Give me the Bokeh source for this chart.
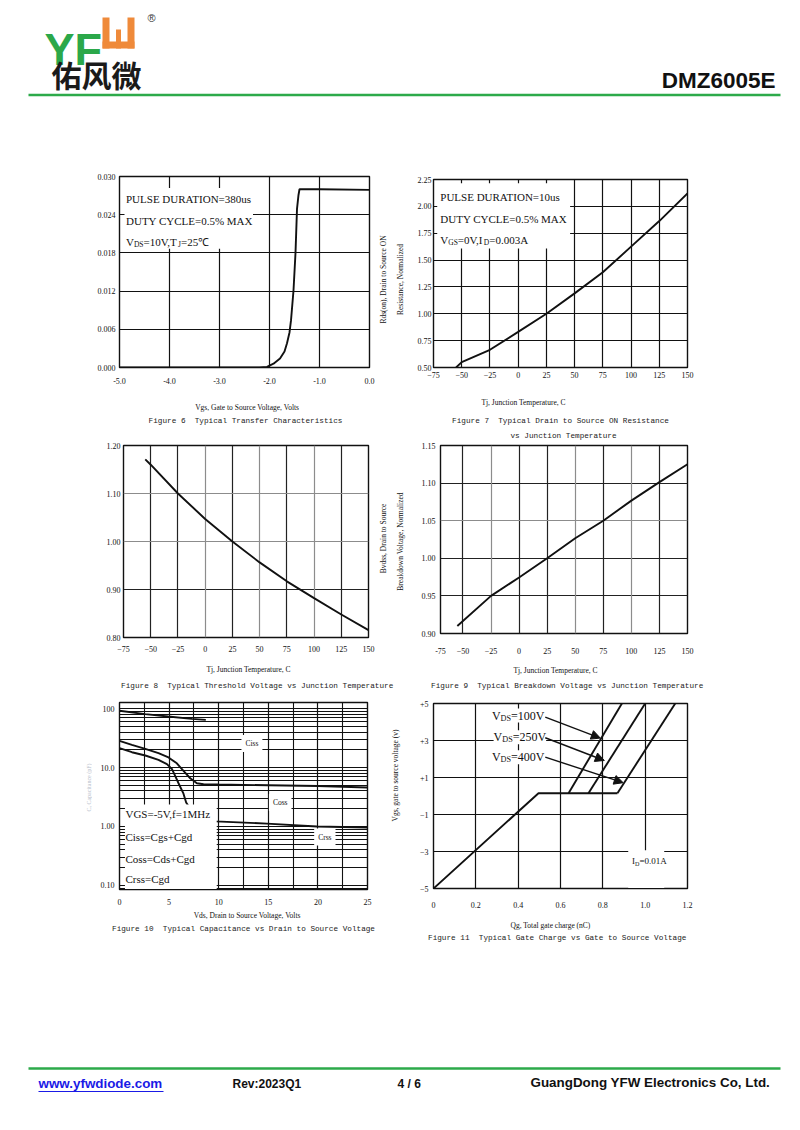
import math
from bokeh.plotting import figure
from bokeh.layouts import column, row
from bokeh.models import (Range1d, FixedTicker, NumeralTickFormatter, Label,
                          BoxAnnotation, Arrow, NormalHead, Grid)
from bokeh.core.properties import value
from bokeh.embed import file_html
from bokeh.resources import INLINE

# ---------------- data ----------------
# Figure 6: transfer characteristics
vgs6 = [-5.0, -4.0, -3.0, -2.2, -2.05, -1.92, -1.79, -1.70, -1.65, -1.60, -1.57,
        -1.52, -1.48, -1.45, -1.42, -1.40, -1.0, 0.0]
id6 = [0.0, 0.0, 0.0, 0.0, 0.0001, 0.0006, 0.0014, 0.0025, 0.0038, 0.0055, 0.0074,
       0.0121, 0.0180, 0.0249, 0.0271, 0.0280, 0.0280, 0.0279]
fig6_xticks = [-5.0, -4.0, -3.0, -2.0, -1.0, 0.0]
fig6_yticks = [0.0, 0.006, 0.012, 0.018, 0.024, 0.030]

# Figure 7: Rds(on) vs Tj
tj7 = [-55, -50, -25, 0, 25, 50, 75, 100, 125, 150]
rds7 = [0.50, 0.55, 0.665, 0.832, 1.00, 1.19, 1.386, 1.625, 1.863, 2.12]
fig7_xticks = [-75, -50, -25, 0, 25, 50, 75, 100, 125, 150]
fig7_yticks = [0.50, 0.75, 1.00, 1.25, 1.50, 1.75, 2.00, 2.25]

# Figure 8: threshold voltage vs Tj
tj8 = [-55, -50, -25, 0, 25, 50, 75, 100, 125, 150]
vth8 = [1.171, 1.160, 1.100, 1.047, 1.000, 0.9565, 0.917, 0.882, 0.848, 0.8155]
fig8_xticks = [-75, -50, -25, 0, 25, 50, 75, 100, 125, 150]
fig8_yticks = [0.80, 0.90, 1.00, 1.10, 1.20]
fig8_xgrid_light = [0, 50, 100]
fig8_ygrid_light = [1.00, 1.10]

# Figure 9: breakdown voltage vs Tj
tj9 = [-55, -25, 0, 25, 50, 75, 100, 125, 150]
bv9 = [0.910, 0.950, 0.9745, 1.000, 1.0267, 1.050, 1.0767, 1.1013, 1.125]
fig9_xticks = [-70, -50, -25, 0, 25, 50, 75, 100, 125, 150]
fig9_xlabels = {-70: "-75"}
fig9_yticks = [0.90, 0.95, 1.00, 1.05, 1.10, 1.15]
fig9_xgrid_light = [-25, 50, 100]
fig9_ygrid_light = [1.05]

# Figure 10: capacitance vs Vds
ciss_v = [0.0, 2.6, 4.9, 7.3, 8.7]
ciss_c = [91.8, 80.6, 73.6, 67.1, 64.5]
coss_v = [0.0, 1.25, 2.6, 3.93, 4.94, 5.78, 6.45, 7.13, 7.8, 8.47, 10, 15, 20, 25]
coss_c = [28.3, 24.2, 20.7, 17.5, 14.8, 11.8, 8.75, 6.58, 5.41, 5.20, 5.14, 5.0, 4.86, 4.57]
crss_v = [0.0, 1.25, 2.6, 3.93, 4.78, 5.28, 5.6, 5.95, 6.19, 6.45, 6.72, 7.5, 9.67,
          14.86, 19.9, 25]
crss_c = [21.3, 18.2, 16.0, 13.5, 11.4, 9.46, 7.31, 5.41, 4.45, 3.6, 2.54, 1.6, 1.22,
          1.116, 1.0, 0.96]
fig10_xticks = [0, 5, 10, 15, 20, 25]
fig10_xminor = [2.5, 7.5, 12.5, 17.5, 22.5]
fig10_yticks = [0.1, 1, 10, 100]
fig10_ylabels = {0.1: "0.10", 1: "1.00", 10: "10.0", 100: "100"}

# Figure 11: gate charge
qg_base = [0.0, 0.496, 0.869]
vgs_base = [-5.0, 0.15, 0.15]
qg_100 = [0.638, 0.89]
qg_250 = [0.732, 1.0]
qg_400 = [0.869, 1.142]
vgs_rise = [0.15, 5.0]
fig11_xticks = [0, 0.2, 0.4, 0.6, 0.8, 1.0, 1.2]
fig11_yticks = [-5, -3, -1, 1, 3, 5]
fig11_ylabels = {5: "+5", 3: "+3", 1: "+1"}

# ---------------- helpers ----------------
SERIF = "Liberation Serif"
MONO = "Liberation Mono"
SANS = "Liberation Sans"
INK = "#111111"
CAP = "#222222"
GREEN = "#2daa4a"
LIGHT = "#8c8c8c"
HALF_PI = math.pi / 2
SP2 = "\u00a0 "  # double space kept in SVG text

TIMES = {'V': .722, 'D': .722, 'S': .556, 'G': .722, 'T': .611, 'J': .389, 'I': .333,
         '=': .564, ',': .25, '.': .25, 'A': .722, ' ': .25, '℃': 1.0, 'C': .667}


def no_align(p):
    if "frame_align" in p.properties():
        p.frame_align = False
    return p


def tw(s, fs):
    return sum(TIMES.get(c, 0.5) for c in s) * fs


def rich(p, x, y, pieces, fs, bg=None):
    off = 0.0
    for t, sub in pieces:
        f = fs * 0.68 if sub else fs
        lab = Label(x=x, y=y, x_offset=off, y_offset=(-2.5 if sub else 0), text=t,
                    text_font=SERIF, text_font_size=f"{f:.1f}px", text_baseline="middle",
                    text_align="left", text_color=INK)
        if bg:
            lab.background_fill_color = bg
        p.add_layout(lab)
        off += tw(t, f)


def txt(p, x, y, s, fs, align="left", color=INK, bg=None, pad=None):
    lab = Label(x=x, y=y, text=s, text_font=SERIF, text_font_size=f"{fs}px",
                text_baseline="middle", text_align=align, text_color=color)
    if bg:
        lab.background_fill_color = bg
    if pad is not None:
        lab.padding = pad
    p.add_layout(lab)


def white_box(p, l, r, b, t):
    p.add_layout(BoxAnnotation(left=l, right=r, bottom=b, top=t, fill_color="white",
                               fill_alpha=1.0, line_alpha=0.0))


def two_tone_grid(p, xt, yt, xlight, ylight, dark="#222222"):
    p.xgrid.ticker = FixedTicker(ticks=[t for t in xt if t not in xlight])
    p.ygrid.ticker = FixedTicker(ticks=[t for t in yt if t not in ylight])
    p.xgrid.grid_line_color = dark
    p.ygrid.grid_line_color = dark
    p.add_layout(Grid(dimension=0, ticker=FixedTicker(ticks=xlight),
                      grid_line_color=LIGHT, grid_line_width=1.2))
    p.add_layout(Grid(dimension=1, ticker=FixedTicker(ticks=ylight),
                      grid_line_color=LIGHT, grid_line_width=1.2))


def chart(w, h, bl, br, bt, bb, xr, yr, xt, yt, ytype="linear", gc=INK,
          xminor=None, yminor=None, xstand=8, ystand=4):
    p = figure(width=w, height=h, x_range=Range1d(*xr), y_range=Range1d(*yr),
               y_axis_type=ytype, output_backend="svg", toolbar_location=None,
               min_border_left=bl, min_border_right=br, min_border_top=bt,
               min_border_bottom=bb)
    no_align(p)
    p.background_fill_color = "white"
    p.border_fill_color = "white"
    p.outline_line_color = INK
    p.outline_line_width = 1.4
    p.xaxis.ticker = FixedTicker(ticks=xt, minor_ticks=xminor or [])
    p.yaxis.ticker = FixedTicker(ticks=yt, minor_ticks=yminor or [])
    for ax in p.axis:
        ax.axis_line_color = None
        ax.major_tick_line_color = None
        ax.minor_tick_line_color = None
        ax.major_tick_out = 0
        ax.major_tick_in = 0
        ax.minor_tick_out = 0
        ax.minor_tick_in = 0
        ax.major_label_text_font = SERIF
        ax.major_label_text_font_size = "8px"
        ax.major_label_text_color = INK
    p.xaxis.major_label_standoff = xstand
    p.yaxis.major_label_standoff = ystand
    p.xgrid.grid_line_color = gc
    p.ygrid.grid_line_color = gc
    p.xgrid.grid_line_width = 1.2
    p.ygrid.grid_line_width = 1.2
    if xminor:
        p.xgrid.minor_grid_line_color = gc
        p.xgrid.minor_grid_line_width = 1.1
    if yminor:
        p.ygrid.minor_grid_line_color = gc
        p.ygrid.minor_grid_line_width = 1.0
    return p


def pixfig(w, h):
    p = figure(width=w, height=h, x_range=Range1d(0, w), y_range=Range1d(h, 0),
               output_backend="svg", toolbar_location=None, min_border=0,
               x_axis_location=None, y_axis_location=None)
    no_align(p)
    p.grid.visible = False
    p.outline_line_color = None
    p.background_fill_color = "white"
    p.border_fill_color = "white"
    return p


def ptext(p, xs, ys, texts, fs, font=SERIF, align="center", color=INK, angle=0.0,
          bold=False):
    p.text(x=xs, y=ys, text=texts, text_font=value(font), text_font_size=f"{fs}px",
           text_color=color, text_align=align, text_baseline="middle", angle=angle,
           text_font_style=("bold" if bold else "normal"))


CURVE = dict(line_color=INK, line_width=1.9)
ANN = 11

# ---------------- header ----------------
hdr = pixfig(800, 160)
hdr.text(x=[44], y=[48.5], text=["YF"], text_font=value(SANS), text_font_style="bold",
         text_font_size="45px", text_color="#2ba84a", text_baseline="alphabetic")
logo_l = [102, 127, 102, 115.5]
logo_r = [109, 134, 134, 120.5]
logo_t = [17, 17, 41, 29]
logo_b = [48, 48, 48, 48]
hdr.quad(left=logo_l, right=logo_r, top=logo_t, bottom=logo_b, fill_color="#ef8a3a",
         line_color=None)
ptext(hdr, [147], [17], ["®"], 11, font=SANS, align="left", color="#333333")
ptext(hdr, [51], [73], ["佑风微"], 30, font="Noto Sans CJK SC", align="left",
      color="#1a1a1a", bold=True)
ptext(hdr, [775], [80], ["DMZ6005E"], 22.5, font=SANS, align="right", bold=True)
hdr.segment(x0=[28], y0=[94.5], x1=[780], y1=[94.5], line_color=GREEN, line_width=2.5)

# ---------------- Figure 6 ----------------
p6 = chart(376, 232, 119, 7, 16, 25, (-5.0, 0.0), (0.0, 0.030), fig6_xticks, fig6_yticks,
           xstand=10, ystand=4)
p6.xaxis.formatter = NumeralTickFormatter(format="0.0")
p6.yaxis.formatter = NumeralTickFormatter(format="0.000")
p6.line(vgs6, id6, **CURVE)
white_box(p6, -4.9, -2.33, 0.01866, 0.0282)
txt(p6, -4.87, 0.02646, "PULSE DURATION=380us", ANN)
txt(p6, -4.87, 0.02304, "DUTY CYCLE=0.5% MAX", ANN)
rich(p6, -4.87, 0.01973, [("V", False), ("DS", True), ("=10V,T", False), ("J", True),
                          ("=25℃", False)], ANN)
strip6 = pixfig(376, 48)
ptext(strip6, [246.7], [15.3], ["Vgs, Gate to Source Voltage, Volts"], 7.5)
ptext(strip6, [245], [28], ["Figure 6" + SP2 + "Typical Transfer Characteristics"], 7.7,
      font=MONO, color=CAP)

# ---------------- Figure 7 ----------------
gap7 = pixfig(30, 226)
ptext(gap7, [6.5, 24], [119, 119], ["Rds(on), Drain to Source ON", "Resistance, Normalized"],
      7.5, angle=HALF_PI)
p7 = chart(394, 226, 27, 113, 19, 19, (-75, 150), (0.5, 2.25), fig7_xticks, fig7_yticks,
           xstand=4, ystand=2)
p7.yaxis.formatter = NumeralTickFormatter(format="0.00")
p7.line(tj7, rds7, **CURVE)
white_box(p7, -71.7, 46, 1.608, 2.215)
txt(p7, -69, 2.0875, "PULSE DURATION=10us", ANN)
txt(p7, -69, 1.886, "DUTY CYCLE=0.5% MAX", ANN)
rich(p7, -69, 1.69, [("V", False), ("GS", True), ("=0V,I", False), ("D", True),
                     ("=0.003A", False)], ANN)
strip7 = pixfig(424, 54)
ptext(strip7, [147], [16.3], ["Tj, Junction Temperature, C"], 7.5)
ptext(strip7, [184, 187], [34, 49.7],
      ["Figure 7" + SP2 + "Typical Drain to Source ON Resistance", "vs Junction Temperature"],
      7.7, font=MONO, color=CAP)

# ---------------- Figure 8 ----------------
p8 = chart(376, 220, 123, 8, 5, 23, (-75, 150), (0.80, 1.20), fig8_xticks, fig8_yticks,
           xstand=8, ystand=3)
two_tone_grid(p8, fig8_xticks, fig8_yticks, fig8_xgrid_light, fig8_ygrid_light)
p8.yaxis.formatter = NumeralTickFormatter(format="0.00")
p8.line(tj8, vth8, **CURVE)

# ---------------- Figure 9 ----------------
gap9 = pixfig(30, 220)
ptext(gap9, [6.5, 24], [98, 101], ["Bvdss, Drain to Source", "Breakdown Voltage, Normalized"],
      7.5, angle=HALF_PI)
p9 = chart(394, 220, 34, 113, 5, 27, (-70, 150), (0.90, 1.15), fig9_xticks, fig9_yticks,
           xstand=14, ystand=5)
two_tone_grid(p9, fig9_xticks, fig9_yticks, fig9_xgrid_light, fig9_ygrid_light)
p9.yaxis.formatter = NumeralTickFormatter(format="0.00")
p9.xaxis.major_label_overrides = fig9_xlabels
p9.line(tj9, bv9, **CURVE)

strip2 = pixfig(800, 36)
ptext(strip2, [248, 555], [9, 10], ["Tj, Junction Temperature, C",
                                    "Tj, Junction Temperature, C"], 7.5)
ptext(strip2, [256.7, 566.7], [25.7, 25],
      ["Figure 8" + SP2 + "Typical Threshold Voltage vs Junction Temperature",
       "Figure 9" + SP2 + "Typical Breakdown Voltage vs Junction Temperature"],
      7.7, font=MONO, color=CAP)

# ---------------- Figure 10 ----------------
gap10 = pixfig(92, 213)
ptext(gap10, [88], [91], ["C, Capacitance (pF)"], 6, angle=HALF_PI, color="#b8c0cc")
fig10_yminor = [m * 10.0 ** e for e in (-2, -1, 0, 1) for m in range(2, 10)]
p10 = chart(284, 213, 27, 9, 6, 20, (0, 25), (0.085, 127), fig10_xticks, fig10_yticks,
            ytype="log", xminor=fig10_xminor, yminor=fig10_yminor, xstand=9, ystand=5)
p10.yaxis.major_label_overrides = fig10_ylabels
p10.line(ciss_v, ciss_c, **CURVE)
p10.line(coss_v, coss_c, **CURVE)
p10.line(crss_v, crss_c, **CURVE)
white_box(p10, 0.55, 9.8, 0.087, 2.35)
txt(p10, 0.6, 1.65, "VGS=-5V,f=1MHz", 11)
txt(p10, 0.6, 0.66, "Ciss=Cgs+Cgd", 11)
txt(p10, 0.6, 0.2834, "Coss=Cds+Cgd", 11)
txt(p10, 0.6, 0.1295, "Crss=Cgd", 11)
txt(p10, 13.35, 25.6, "Ciss", 7.5, align="center", bg="white", pad=4)
txt(p10, 16.2, 2.54, "Coss", 7.5, align="center", bg="white", pad=4)
txt(p10, 20.7, 0.66, "Crss", 7.5, align="center", bg="white", pad=4)
strip10 = pixfig(376, 37)
ptext(strip10, [246.7], [6], ["Vds, Drain to Source Voltage, Volts"], 7.5)
ptext(strip10, [243], [19.3],
      ["Figure 10" + SP2 + "Typical Capacitance vs Drain to Source Voltage"],
      7.7, font=MONO, color=CAP)

# ---------------- Figure 11 ----------------
gap11 = pixfig(30, 216)
ptext(gap11, [19], [79], ["Vgs, gate to source voltage (v)"], 7.5, angle=HALF_PI)
p11 = chart(394, 216, 27, 113, 7, 24, (0.0, 1.2), (-5.0, 5.0), fig11_xticks, fig11_yticks,
            xstand=13, ystand=5)
p11.xaxis.formatter = NumeralTickFormatter(format="0.0")
p11.xaxis.major_label_overrides = {0: "0"}
p11.yaxis.major_label_overrides = fig11_ylabels
p11.line(qg_base, vgs_base, **CURVE)
p11.line(qg_100, vgs_rise, **CURVE)
p11.line(qg_250, vgs_rise, **CURVE)
p11.line(qg_400, vgs_rise, **CURVE)
white_box(p11, 0.92, 1.09, -4.97, -2.93)
rich(p11, 0.276, 4.35, [("V", False), ("DS", True), ("=100V", False)], 12, bg="white")
rich(p11, 0.284, 3.17, [("V", False), ("DS", True), ("=250V", False)], 12, bg="white")
rich(p11, 0.276, 2.09, [("V", False), ("DS", True), ("=400V", False)], 12, bg="white")
rich(p11, 0.938, -3.53, [("I", False), ("D", True), ("=0.01A", False)], 9)
for xs, ys, xe, ye in [(0.528, 4.26, 0.788, 3.13), (0.528, 3.15, 0.807, 1.92),
                       (0.528, 2.10, 0.896, 0.72)]:
    p11.add_layout(Arrow(x_start=xs, y_start=ys, x_end=xe, y_end=ye, line_color=INK,
                         line_width=1.4,
                         end=NormalHead(size=9, fill_color=INK, line_color=INK)))
strip11 = pixfig(424, 34)
ptext(strip11, [174], [13], ["Qg, Total gate charge (nC)"], 7.5)
ptext(strip11, [180.7], [25.7],
      ["Figure 11" + SP2 + "Typical Gate Charge vs Gate to Source Voltage"],
      7.7, font=MONO, color=CAP)

# ---------------- footer ----------------
ftr = pixfig(800, 182)
ftr.segment(x0=[28], y0=[122], x1=[780], y1=[122], line_color=GREEN, line_width=2.5)
ptext(ftr, [38], [137], ["www.yfwdiode.com"], 13.4, font=SANS, align="left",
      color="#1a1ae6", bold=True)
ftr.segment(x0=[38], y0=[145], x1=[163], y1=[145], line_color="#1a1ae6", line_width=1.2)
ptext(ftr, [232, 397], [137, 137], ["Rev:2023Q1", "4 / 6"], 12, font=SANS, align="left",
      bold=True)
ptext(ftr, [530], [136], ["GuangDong YFW Electronics Co, Ltd."], 13.4, font=SANS,
      align="left", bold=True)

row1 = row(column(p6, row(strip6)), column(row(row(gap7), p7), row(strip7)))
row2 = column(row(p8, row(gap9), p9), row(strip2))
row3 = row(column(row(row(gap10), p10), row(strip10)),
           column(row(row(gap11), p11), row(strip11)))
page = column(row(hdr), row1, row2, row3, row(ftr))

with open("out.html", "w") as f:
    f.write(file_html(page, INLINE))
